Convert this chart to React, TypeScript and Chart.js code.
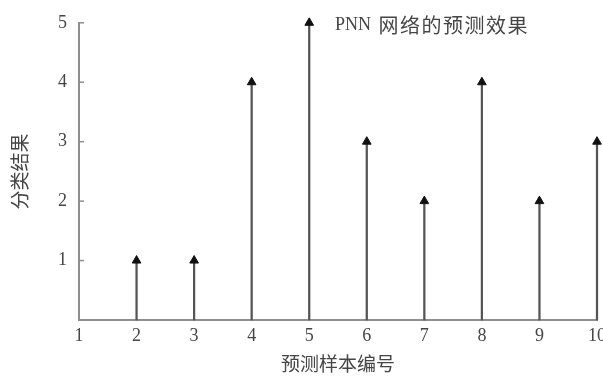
import React, { useEffect, useRef } from 'react';
import { Chart, registerables } from 'chart.js';

Chart.register(...registerables);

const sampleIds = [2, 3, 4, 5, 6, 7, 8, 9, 10];
const predictedClass = [1, 1, 4, 5, 3, 2, 4, 2, 3];
const xTickValues = [1, 2, 3, 4, 5, 6, 7, 8, 9, 10];
const yTickValues = [0, 1, 2, 3, 4, 5];
const titleLatin = 'PNN';
const titleCJK = '网络的预测效果';
const xAxisTitle = '预测样本编号';
const yAxisTitle = '分类结果';

const SERIF = "'Liberation Serif', 'Noto Sans CJK SC', serif";
const TEXT = '#454545';
const AXIS = '#8f8f8f';

export default function App() {
  const ref = useRef<HTMLCanvasElement | null>(null);

  useEffect(() => {
    const canvas = ref.current;
    if (!canvas) return;
    const points = sampleIds.map((x, i) => ({ x, y: predictedClass[i] }));

    const extras = {
      id: 'extras',
      afterDraw(chart: any) {
        const ctx = chart.ctx;
        const y = chart.scales.y;
        const area = chart.chartArea;
        ctx.save();
        ctx.strokeStyle = AXIS;
        ctx.lineWidth = 1.5;
        yTickValues.forEach((v) => {
          if (v === 0) return;
          const py = y.getPixelForValue(v);
          ctx.beginPath();
          ctx.moveTo(area.left, py);
          ctx.lineTo(area.left + 5, py);
          ctx.stroke();
        });
        ctx.fillStyle = TEXT;
        ctx.textAlign = 'left';
        ctx.textBaseline = 'middle';
        ctx.font = `18px ${SERIF}`;
        ctx.fillText(titleLatin, 335, 25);
        const w = ctx.measureText(titleLatin + ' ').width;
        ctx.font = `20px 'Noto Sans CJK SC', sans-serif`;
        (ctx as any).letterSpacing = '1.5px';
        ctx.fillText(titleCJK, 335 + w + 3, 25);
        ctx.restore();
      },
    };

    const chart = new Chart(canvas, {
      type: 'bar',
      data: {
        datasets: [
          {
            type: 'scatter',
            data: points,
            pointStyle: 'triangle',
            pointRadius: 5,
            backgroundColor: '#111111',
            borderColor: '#111111',
            borderWidth: 1,
            clip: false,
            order: 1,
          } as any,
          {
            type: 'bar',
            data: points,
            backgroundColor: '#555555',
            barThickness: 1.6,
            clip: false,
            order: 2,
          } as any,
        ],
      },
      options: {
        responsive: false,
        animation: false,
        layout: { padding: { left: 0, right: 6, top: 22, bottom: 0 } },
        plugins: {
          legend: { display: false },
          tooltip: { enabled: false },
          title: { display: false },
        },
        scales: {
          x: {
            type: 'linear',
            min: 1,
            max: 10,
            offset: false,
            afterBuildTicks: (s: any) => {
              s.ticks = xTickValues.map((v) => ({ value: v }));
            },
            afterFit: (s: any) => {
              s.height = 61;
              s.paddingRight = 0;
              s.paddingLeft = 0;
            },
            grid: { display: false, drawTicks: false, offset: false },
            border: { display: true, color: AXIS, width: 2 },
            ticks: {
              color: TEXT,
              padding: 5,
              font: { family: SERIF, size: 18 },
              maxRotation: 0,
              autoSkip: false,
            },
            title: {
              display: true,
              text: xAxisTitle,
              color: TEXT,
              font: { family: SERIF, size: 19 },
              padding: { top: 0, bottom: 4 },
            },
          } as any,
          y: {
            type: 'linear',
            min: 0,
            max: 5,
            afterBuildTicks: (s: any) => {
              s.ticks = yTickValues.map((v) => ({ value: v }));
            },
            afterFit: (s: any) => {
              s.width = 79;
            },
            grid: { display: false, drawTicks: false },
            border: { display: true, color: AXIS, width: 2 },
            ticks: {
              color: TEXT,
              padding: 12,
              font: { family: SERIF, size: 18 },
              callback: (v: any) => (v === 0 ? '' : String(v)),
            },
            title: {
              display: true,
              text: yAxisTitle,
              color: TEXT,
              font: { family: SERIF, size: 19 },
              padding: { top: 11, bottom: 0 },
            },
          } as any,
        },
      },
      plugins: [extras],
    });

    return () => chart.destroy();
  }, []);

  return (
    <div style={{ position: 'fixed', left: 0, top: 0, width: 603, height: 381, background: '#fff' }}>
      <canvas ref={ref} width={603} height={381} style={{ width: 603, height: 381, display: 'block' }} />
    </div>
  );
}
